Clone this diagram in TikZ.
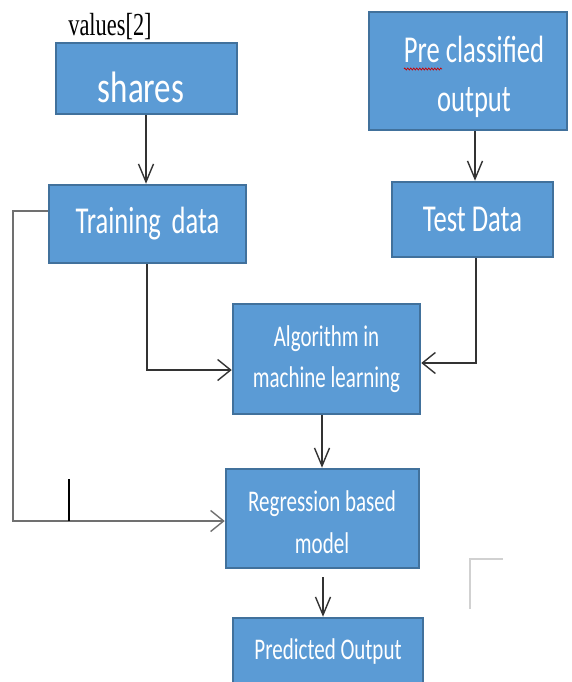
\documentclass[tikz,border=0pt]{standalone}
\usepackage{fontspec}
\usetikzlibrary{arrows.meta,decorations.pathmorphing}
\newfontfamily\boxfont[FakeStretch=0.7]{Carlito}
\newfontfamily\sharesfont[FakeStretch=0.75]{Carlito}
\newfontfamily\serifcond[FakeStretch=0.7]{Liberation Serif}
\definecolor{boxfill}{HTML}{5B9BD5}
\definecolor{boxline}{HTML}{41719C}
\definecolor{wire}{HTML}{333333}
\definecolor{loopwire}{HTML}{707070}
\tikzset{
  blk/.style={draw=boxline, line width=2.5pt, fill=boxfill, text=white, align=center, inner sep=0pt, anchor=center},
  lbl/.style={text=white, align=center, inner sep=0pt},
  big/.style={font=\boxfont\fontsize{38}{49}\selectfont},
  small/.style={font=\boxfont\fontsize{30}{41}\selectfont},
  varr/.style={draw=wire, line width=1.4pt, -{Straight Barb[length=18pt,width=15pt,line width=1.4pt]}},
  harr/.style={draw=wire, line width=1.4pt, -{Straight Barb[length=13pt,width=21pt,line width=1.4pt]}},
}
\begin{document}
\begin{tikzpicture}[x=1pt,y=-1pt]
\clip (0,0) rectangle (572,682);
\fill[white] (0,0) rectangle (572,682);
% boxes
\node[blk, minimum width=181pt, minimum height=71pt] (shares) at (146.5,78.5) {};
\node[lbl, font=\sharesfont\fontsize{44}{48}\selectfont] (sharestxt) at (141,87) {shares};
\node[blk, big, minimum width=197pt, minimum height=78pt] (train) at (147.5,224) {Training\hspace{0.12em} data};
\node[blk, minimum width=198pt, minimum height=118pt] (pre) at (468,71) {};
\node[lbl, big] (pretxt) at (474,77) {Pre classified\\output};
\node[blk, big, minimum width=161pt, minimum height=75pt] (test) at (472.5,219.5) {Test Data};
\node[blk, small, minimum width=187pt, minimum height=110pt] (algo) at (326.5,359) {Algorithm in\\machine learning};
\node[blk, minimum width=193pt, minimum height=99pt] (reg) at (322.5,518.5) {};
\node[lbl, small, font=\boxfont\fontsize{30}{42}\selectfont] (regtxt) at (322,522) {Regression based\\model};
\node[blk, small, minimum width=190pt, minimum height=66pt] (pred) at (328,651) {Predicted Output};
% label above shares
\node[font=\serifcond\fontsize{32}{34}\selectfont, text=black, inner sep=0pt] (val) at (110,27) {values[2]};
% spell-check squiggle under "Pre"
\coordinate (sqa) at (404,69);
\coordinate (sqb) at (442,69);
\draw[red!80!black, line width=0.7pt, decorate, decoration={zigzag, amplitude=1pt, segment length=3pt}] (sqa) -- (sqb);
% connectors
\draw[varr] (shares.south -| 146,0) -- (train.north -| 146,0);
\draw[varr] (pre.south -| 475,0) -- (test.north -| 475,0);
\coordinate (tdturn) at (147,370);
\draw[harr] (train.south -| tdturn) -- (tdturn) -- (algo.west |- tdturn);
\coordinate (teturn) at (476,363);
\draw[harr] (test.south -| teturn) -- (teturn) -- (algo.east |- teturn);
\draw[varr] (algo.south -| 322,0) -- (reg.north -| 322,0);
\coordinate (rgstart) at (323,577);
\draw[varr] (rgstart) -- (pred.north -| rgstart);
% loop line on the left
\coordinate (lpa) at (13,211);
\coordinate (lpb) at (13,521);
\draw[harr, draw=loopwire] (train.west |- lpa) -- (lpa) -- (lpb) -- (reg.west |- lpb);
\coordinate (tkb) at (69,521);
\coordinate (tkt) at (69,479);
\draw[black, line width=2pt] (tkb) -- (tkt);
% faint corner mark
\coordinate (cma) at (470,609);
\coordinate (cmb) at (470,559);
\coordinate (cmc) at (503,559);
\draw[black!18, line width=1.2pt] (cma) -- (cmb) -- (cmc);
\end{tikzpicture}
\end{document}
